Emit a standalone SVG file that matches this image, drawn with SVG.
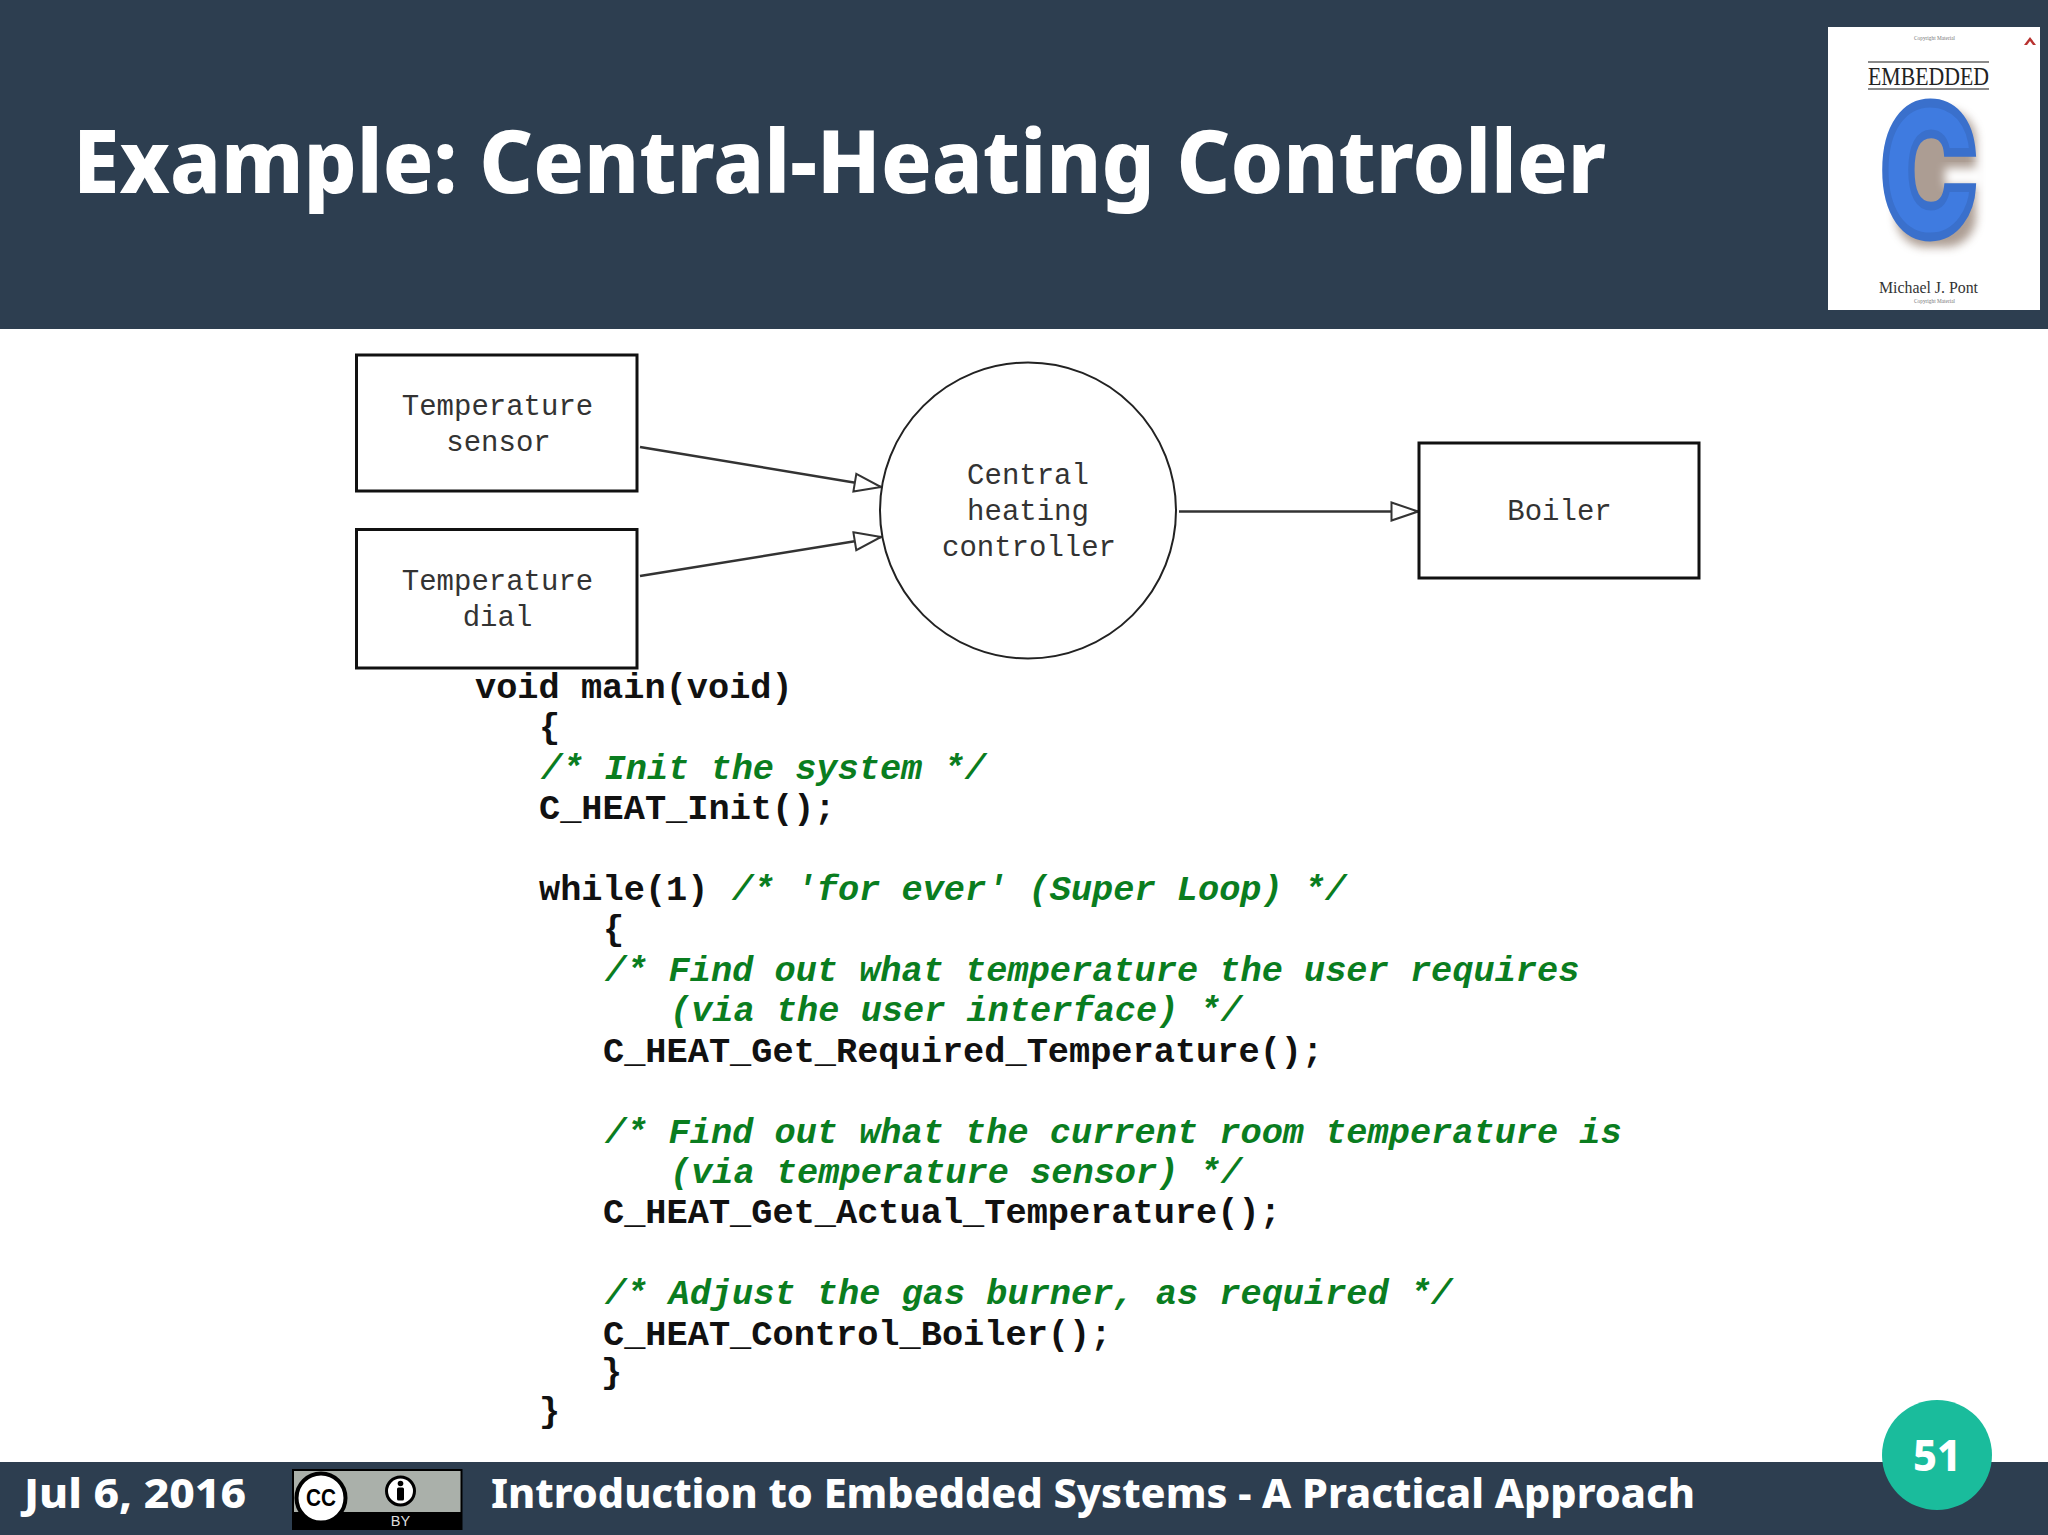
<svg xmlns="http://www.w3.org/2000/svg" width="2048" height="1535" viewBox="0 0 2048 1535">
<style>
.band{fill:#2d3e50}
.ui{font-family:"Noto Sans","Open Sans",sans-serif;font-weight:800;fill:#fff}
.box{fill:#fff;stroke:#111;stroke-width:3}
.bubble{fill:#fff;stroke:#222;stroke-width:2}
.lbl{font-family:"Liberation Mono",monospace;font-size:29px;fill:#333;text-anchor:middle}
.code{font-family:"Liberation Mono",monospace;font-size:35.3px;font-weight:700;fill:#111}
.cm{fill:#0a7d1f;font-style:italic}
.wire{stroke:#333;stroke-width:2.5;fill:none;marker-end:url(#hollow)}
.serif{font-family:"Liberation Serif",serif}
</style>
<defs>
<marker id="hollow" markerUnits="userSpaceOnUse" markerWidth="30" markerHeight="22" refX="28" refY="11" orient="auto">
<path d="M1.500 2 L28 11 L1.500 20 Z" fill="#fff" stroke="#333" stroke-width="2"/>
</marker>
<filter id="soft" x="-30%" y="-30%" width="160%" height="160%"><feGaussianBlur stdDeviation="5"/></filter>
</defs>
<rect width="2048" height="1535" fill="#fff"/>
<g id="header">
<rect class="band" width="2048" height="329"/>
<text class="ui" x="73" y="193" font-size="88" textLength="1533" lengthAdjust="spacingAndGlyphs">Example: Central-Heating Controller</text>
</g>
<g id="book-cover">
<rect x="1828" y="27" width="212" height="283" fill="#fff"/>
<text class="serif" x="1914" y="40" font-size="5.500" fill="#777" textLength="41" lengthAdjust="spacingAndGlyphs">Copyright Material</text>
<path d="M2030 37 L2036 45 L2033 45 L2030 41 L2027 45 L2024 45 Z" fill="#b8322f"/>
<path d="M1868 62 H1989 M1868 89 H1989" stroke="#666" stroke-width="1.500"/>
<text class="serif" x="1868" y="85" font-size="25" fill="#222" textLength="121" lengthAdjust="spacingAndGlyphs">EMBEDDED</text>
<rect x="1896" y="110" width="80" height="137" rx="30" fill="#8a7566" opacity=".7" filter="url(#soft)"/>
<rect x="1945" y="168" width="40" height="18" fill="#fff" filter="url(#soft)"/>
<text transform="translate(1881 235) scale(.7 .98)" font-family="Inter,sans-serif" font-weight="900" font-size="183" fill="#3f7be0" stroke="#3a70cc" stroke-width="9">C</text>
<text class="serif" x="1879" y="293" font-size="17" fill="#333" textLength="99" lengthAdjust="spacingAndGlyphs">Michael J. Pont</text>
<text class="serif" x="1914" y="303" font-size="5.500" fill="#777" textLength="41" lengthAdjust="spacingAndGlyphs">Copyright Material</text>
</g>
<g id="connectors">
<line class="wire" x1="640" y1="447" x2="881" y2="487"/>
<line class="wire" x1="640" y1="576" x2="881" y2="537"/>
<line class="wire" x1="1179" y1="511.500" x2="1418" y2="511.500"/>
</g>
<g id="temperature-sensor">
<rect class="box" x="356.500" y="355" width="280.500" height="136"/>
<text class="lbl" x="497.500" y="415">Temperature</text>
<text class="lbl" x="498.500" y="451">sensor</text>
</g>
<g id="temperature-dial">
<rect class="box" x="356.500" y="529.500" width="280.500" height="138.500"/>
<text class="lbl" x="497.500" y="590">Temperature</text>
<text class="lbl" x="497.500" y="626">dial</text>
</g>
<g id="central-heating-controller">
<circle class="bubble" cx="1028" cy="510.500" r="148"/>
<text class="lbl" x="1028" y="484">Central</text>
<text class="lbl" x="1028" y="520">heating</text>
<text class="lbl" x="1029" y="556">controller</text>
</g>
<g id="boiler">
<rect class="box" x="1419" y="443" width="280" height="135"/>
<text class="lbl" x="1559.500" y="520">Boiler</text>
</g>
<g id="code">
<text class="code" x="475" y="698">void main(void)</text>
<text class="code" x="539" y="738">{</text>
<text class="code cm" x="541" y="779">/* Init the system */</text>
<text class="code" x="539" y="819">C_HEAT_Init();</text>
<text class="code" x="539" y="900">while(1)</text>
<text class="code cm" x="732" y="900">/* 'for ever' (Super Loop) */</text>
<text class="code" x="603" y="940">{</text>
<text class="code cm" x="605" y="981">/* Find out what temperature the user requires</text>
<text class="code cm" x="670" y="1021">(via the user interface) */</text>
<text class="code" x="603" y="1062">C_HEAT_Get_Required_Temperature();</text>
<text class="code cm" x="605" y="1143">/* Find out what the current room temperature is</text>
<text class="code cm" x="670" y="1183">(via temperature sensor) */</text>
<text class="code" x="603" y="1223">C_HEAT_Get_Actual_Temperature();</text>
<text class="code cm" x="605" y="1304">/* Adjust the gas burner, as required */</text>
<text class="code" x="603" y="1345">C_HEAT_Control_Boiler();</text>
<text class="code" x="601" y="1383">}</text>
<text class="code" x="539" y="1422">}</text>
</g>
<g id="footer">
<rect class="band" y="1462" width="2048" height="73"/>
<text class="ui" x="24" y="1508" font-size="41" textLength="222" lengthAdjust="spacingAndGlyphs">Jul 6, 2016</text>
<text class="ui" x="491" y="1508" font-size="41" textLength="1204" lengthAdjust="spacingAndGlyphs">Introduction to Embedded Systems - A Practical Approach</text>
</g>
<g id="cc-badge">
<rect x="292" y="1469" width="170.500" height="61" fill="#000"/>
<rect x="294" y="1471" width="166.500" height="41" fill="#aab0aa"/>
<circle cx="321" cy="1498" r="24.500" fill="#fff" stroke="#000" stroke-width="4"/>
<text x="321" y="1506" font-family="Liberation Sans,sans-serif" font-weight="700" font-size="23" text-anchor="middle" fill="#000" textLength="30" lengthAdjust="spacingAndGlyphs">CC</text>
<circle cx="400.500" cy="1491" r="14" fill="#fff" stroke="#000" stroke-width="3"/>
<circle cx="400.500" cy="1483.500" r="2.800" fill="#000"/>
<rect x="397" y="1487.500" width="7" height="13" rx="1.500" fill="#000"/>
<text x="400.500" y="1526" font-family="Liberation Sans,sans-serif" font-size="14.500" text-anchor="middle" fill="#ddd">BY</text>
</g>
<g id="page-badge">
<circle cx="1937" cy="1455" r="55" fill="#1abc9c"/>
<text class="ui" x="1937" y="1471" font-size="42" text-anchor="middle" textLength="48" lengthAdjust="spacingAndGlyphs">51</text>
</g>
</svg>
